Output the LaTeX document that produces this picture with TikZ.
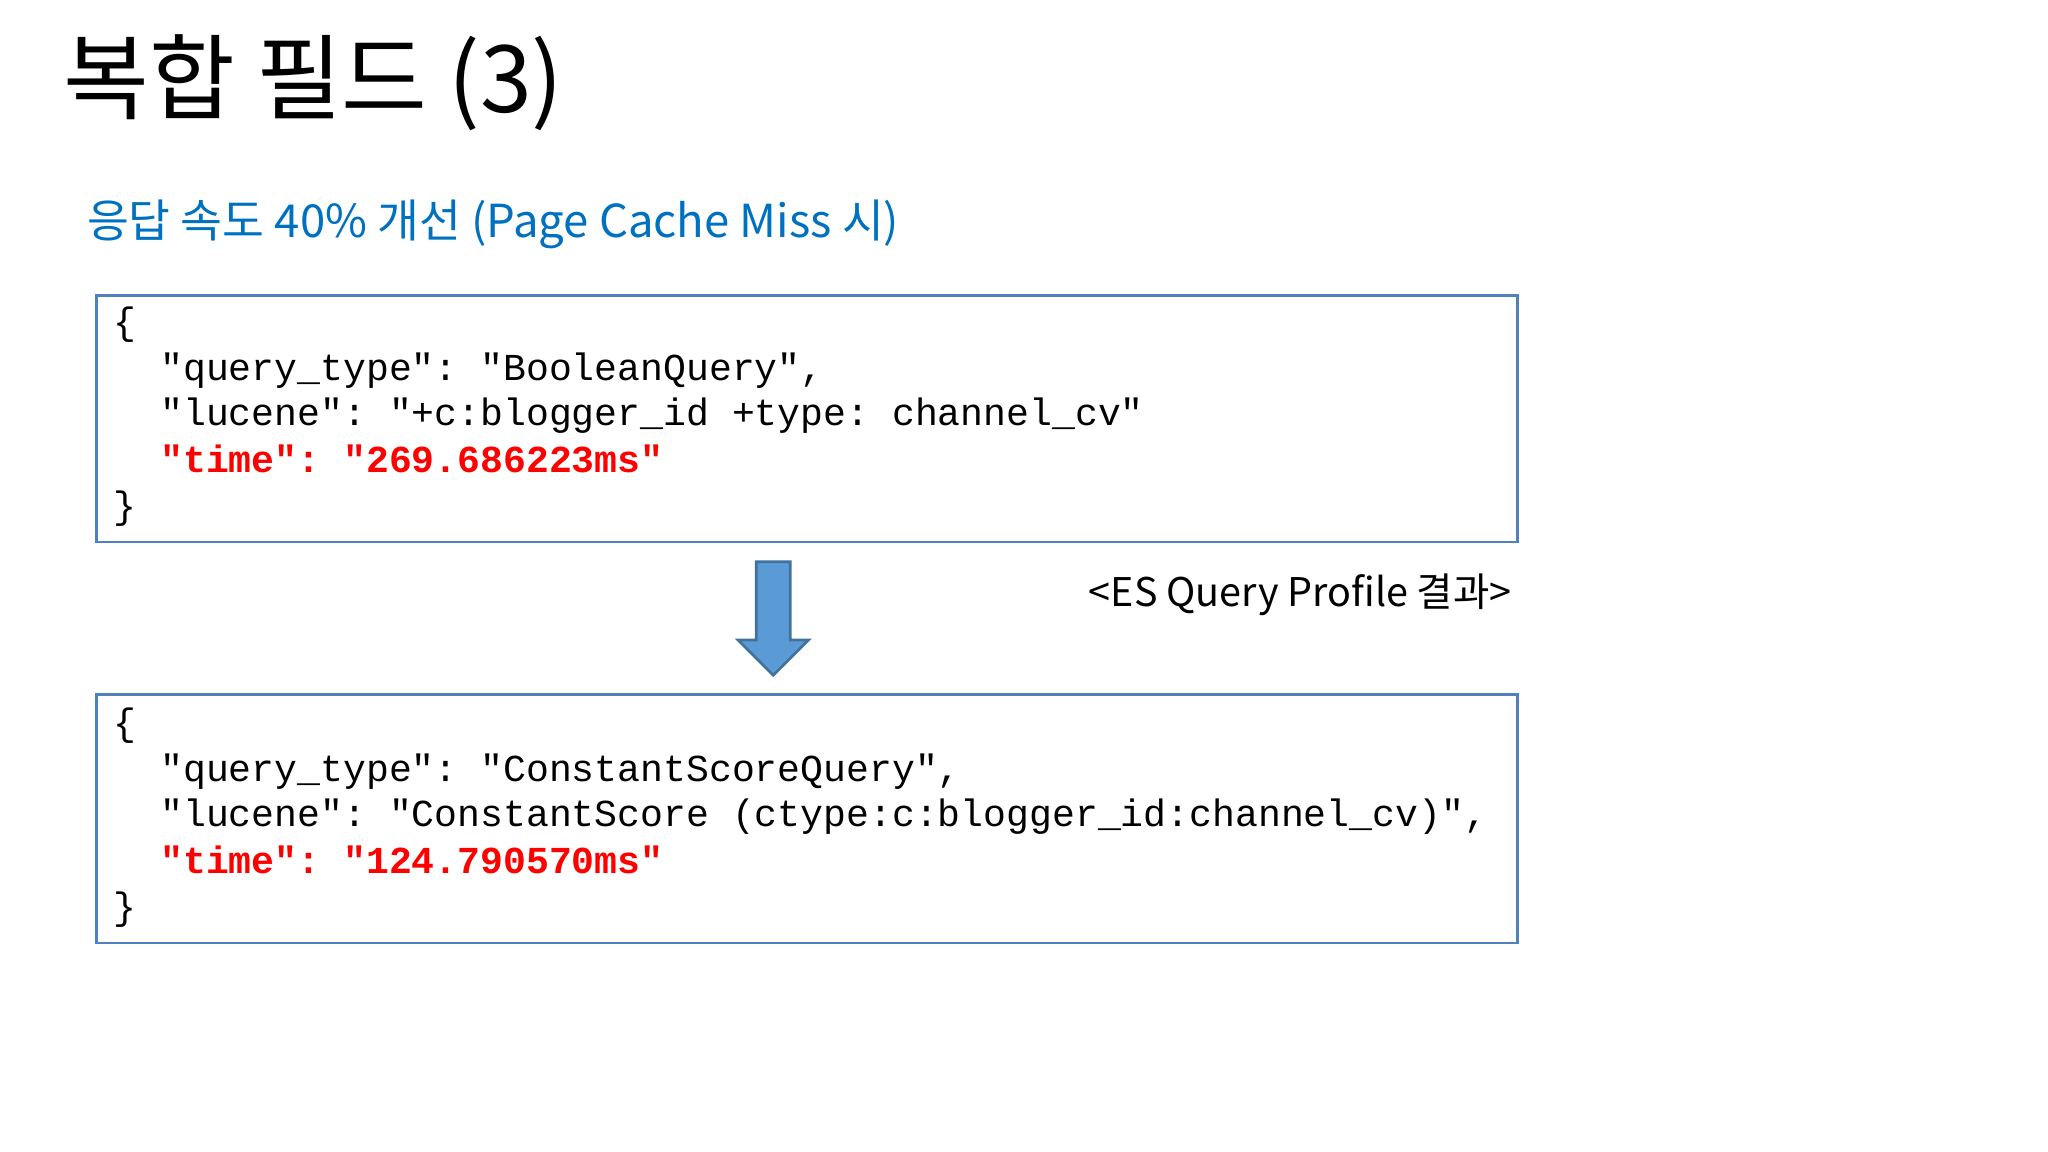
\documentclass[tikz,border=0pt]{standalone}
\usepackage{fontspec}
\setmainfont{Noto Sans CJK KR}
\setmonofont{Liberation Mono}
\definecolor{boxblue}{HTML}{4F81BD}
\definecolor{subblue}{HTML}{0070C0}
\definecolor{arrowfill}{HTML}{5B9BD5}
\definecolor{arrowline}{HTML}{41719C}
\begin{document}
\begin{tikzpicture}[x=0.01cm,y=-0.01cm,
  codebox/.style={draw=boxblue,line width=0.6pt},
  code/.style={anchor=base west,inner sep=0,font=\ttfamily\fontsize{8.3}{10}\selectfont},
  hot/.style={code,text=red,font=\ttfamily\bfseries\fontsize{8.3}{10}\selectfont}]
\useasboundingbox (0,0) rectangle (1568,882);
\node[anchor=base west,inner sep=0,font=\fontsize{20.3}{24}\selectfont] (title) at (48,86) {복합 필드 (3)};
\node[anchor=base west,inner sep=0,text=subblue,font=\fontsize{9.9}{12}\selectfont] (sub) at (66,182) {응답 속도 40\% 개선 (Page Cache Miss 시)};
\draw[codebox] (74,226) rectangle (1162,415);
\node[code] (a0) at (86,256) {\{};
\node[code] (a1) at (122,291) {"query\_type": "BooleanQuery",};
\node[code] (a2) at (122,326) {"lucene": "+c:blogger\_id +type: channel\_cv"};
\node[hot] (a3) at (122,362) {"time": "269.686223ms"};
\node[code] (a4) at (86,397) {\}};
\draw[codebox] (74,532) rectangle (1162,722);
\node[code] (b0) at (86,563) {\{};
\node[code] (b1) at (122,598) {"query\_type": "ConstantScoreQuery",};
\node[code] (b2) at (122,633) {"lucene": "ConstantScore (ctype:c:blogger\_id:channel\_cv)",};
\node[hot] (b3) at (122,669) {"time": "124.790570ms"};
\node[code] (b4) at (86,704) {\}};
\draw[fill=arrowfill,draw=arrowline,line width=0.6pt] (579,430) -- (605,430) -- (605,490) -- (619,490) -- (592,517) -- (565,490) -- (579,490) -- cycle;
\node[anchor=base east,inner sep=0,font=\fontsize{8.6}{11}\selectfont] (lbl) at (1158,464) {<ES Query Profile 결과>};
\end{tikzpicture}
\end{document}
